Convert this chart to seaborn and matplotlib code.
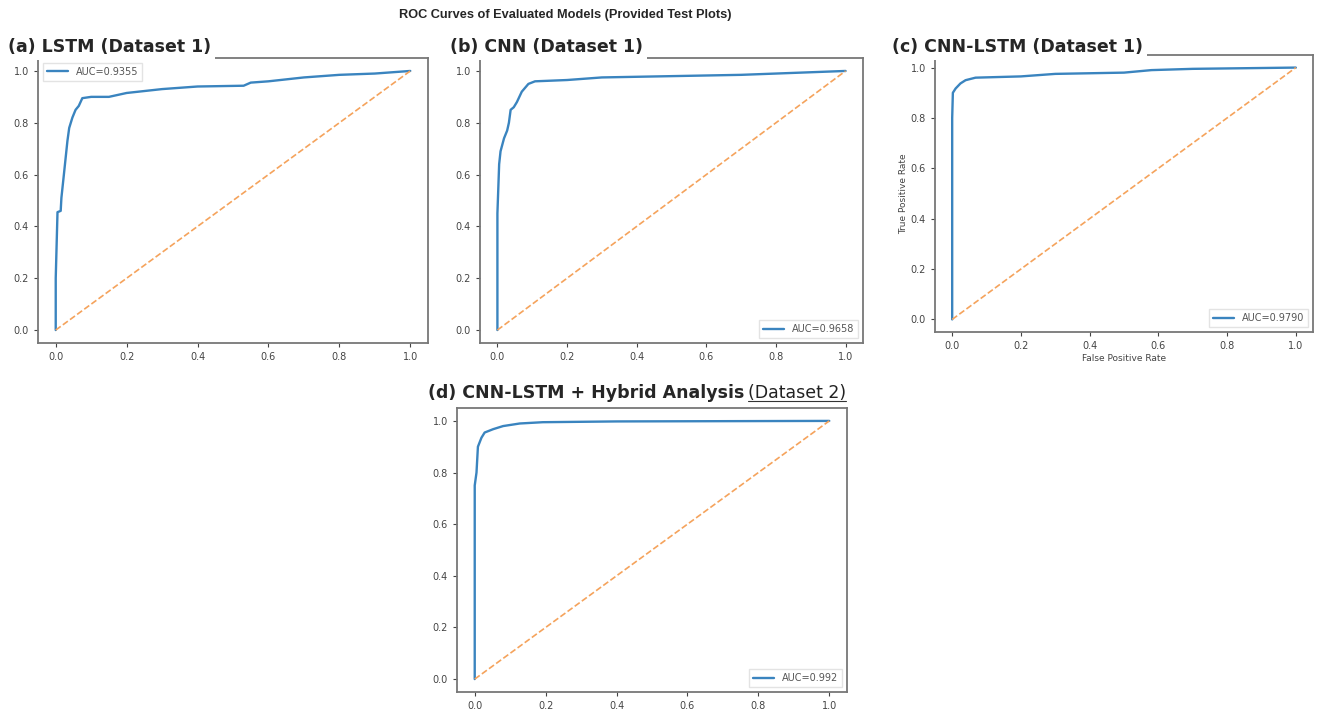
import matplotlib
matplotlib.use('Agg')
import matplotlib.pyplot as plt
import seaborn as sns

# ROC points
lstm_fpr = [0.0, 0.0, 0.005, 0.014, 0.016, 0.023, 0.033, 0.038, 0.047, 0.056, 0.065, 0.075, 0.10, 0.15, 0.20, 0.30, 0.40, 0.53, 0.55, 0.60, 0.70, 0.80, 0.90, 1.0]
lstm_tpr = [0.0, 0.20, 0.455, 0.46, 0.51, 0.60, 0.73, 0.78, 0.82, 0.85, 0.865, 0.895, 0.90, 0.90, 0.915, 0.93, 0.94, 0.943, 0.955, 0.96, 0.975, 0.985, 0.99, 1.0]

cnn_fpr = [0.0, 0.0, 0.005, 0.009, 0.019, 0.028, 0.033, 0.038, 0.047, 0.056, 0.070, 0.089, 0.108, 0.20, 0.30, 0.50, 0.70, 0.80, 0.90, 1.0]
cnn_tpr = [0.0, 0.45, 0.64, 0.69, 0.74, 0.77, 0.80, 0.85, 0.86, 0.88, 0.92, 0.95, 0.96, 0.965, 0.975, 0.98, 0.985, 0.99, 0.995, 1.0]

cnnlstm_fpr = [0.0, 0.0, 0.002, 0.010, 0.024, 0.039, 0.068, 0.20, 0.30, 0.50, 0.58, 0.70, 1.0]
cnnlstm_tpr = [0.0, 0.80, 0.90, 0.917, 0.937, 0.95, 0.96, 0.965, 0.975, 0.98, 0.99, 0.995, 1.0]

hybrid_fpr = [0.0, 0.0, 0.005, 0.009, 0.019, 0.028, 0.052, 0.080, 0.127, 0.192, 0.40, 1.0]
hybrid_tpr = [0.0, 0.75, 0.80, 0.90, 0.935, 0.955, 0.968, 0.98, 0.99, 0.995, 0.998, 1.0]

panel_titles = ['(a) LSTM (Dataset 1)', '(b) CNN (Dataset 1)', '(c) CNN-LSTM (Dataset 1)', '(d) CNN-LSTM + Hybrid Analysis']
auc_labels = ['AUC=0.9355', 'AUC=0.9658', 'AUC=0.9790', 'AUC=0.992']
legend_locs = ['upper left', 'lower right', 'lower right', 'lower right']
ticks = [0.0, 0.2, 0.4, 0.6, 0.8, 1.0]

sns.set_style('ticks')
plt.rcParams['font.family'] = ['DejaVu Sans']

W, H = 1319, 713
fig = plt.figure(figsize=(W / 100, H / 100), dpi=100)

def px(l, t, r, b):
    return [l / W, 1 - b / H, (r - l) / W, (b - t) / H]

boxes = [px(38, 58, 428, 343), px(480, 58, 863, 343), px(935, 55, 1313, 332), px(457, 408, 847, 692)]
curves = [(lstm_fpr, lstm_tpr), (cnn_fpr, cnn_tpr), (cnnlstm_fpr, cnnlstm_tpr), (hybrid_fpr, hybrid_tpr)]

for i, (box, (fx, ty)) in enumerate(zip(boxes, curves)):
    ax = fig.add_axes(box)
    sns.lineplot(x=fx, y=ty, sort=False, estimator=None, ax=ax, color='#3a84bf', linewidth=1.7, label=auc_labels[i])
    sns.lineplot(x=[0, 1], y=[0, 1], sort=False, estimator=None, ax=ax, color='#f5a35c', linestyle='--', linewidth=1.2)
    ax.set_xlim(-0.05, 1.05)
    ax.set_ylim(-0.05, 1.05)
    ax.set_xticks(ticks)
    ax.set_yticks(ticks)
    ax.tick_params(labelsize=7, colors='#444444', length=3)
    for s in ax.spines.values():
        s.set_color('#777777')
        s.set_linewidth(1.3)
    leg = ax.legend(loc=legend_locs[i], fontsize=7, frameon=True, fancybox=False, handlelength=2.2)
    leg.get_frame().set_edgecolor('#dddddd')
    for t in leg.get_texts():
        t.set_color('#555555')
    if i == 2:
        ax.set_xlabel('False Positive Rate', fontsize=6.5, color='#444444', labelpad=2)
        ax.set_ylabel('True Positive Rate', fontsize=6.5, color='#444444', labelpad=2)

# panel titles with white boxes covering part of the top spine
title_pos = [(8, 47), (450, 47), (892, 47), (428, 393)]
title_objs = []
for (x, y), txt in zip(title_pos, panel_titles):
    t = fig.text(x / W, 1 - y / H, txt, fontsize=12.5, fontweight='bold', va='center', ha='left',
                 bbox=dict(facecolor='white', edgecolor='none', pad=3), zorder=5)
    title_objs.append(t)

fig.canvas.draw()
bb = title_objs[3].get_window_extent()
x2 = bb.x1 / W + 4 / W
t2 = fig.text(x2, 1 - 393 / H, '(Dataset 2)', fontsize=12.5, va='center', ha='left', color='#222222',
              bbox=dict(facecolor='white', edgecolor='none', pad=3), zorder=5)
fig.canvas.draw()
bb2 = t2.get_window_extent()
fig.add_artist(plt.Line2D([bb2.x0 / W, bb2.x1 / W], [(bb2.y0 + 1) / H, (bb2.y0 + 1) / H], color='#333333', linewidth=0.8, zorder=6))

fig.text(565 / W, 1 - 15 / H, 'ROC Curves of Evaluated Models (Provided Test Plots)',
         fontsize=9.2, fontweight='bold', ha='center', va='center', family=['Liberation Sans'])

fig.savefig('out.png', dpi=100)
